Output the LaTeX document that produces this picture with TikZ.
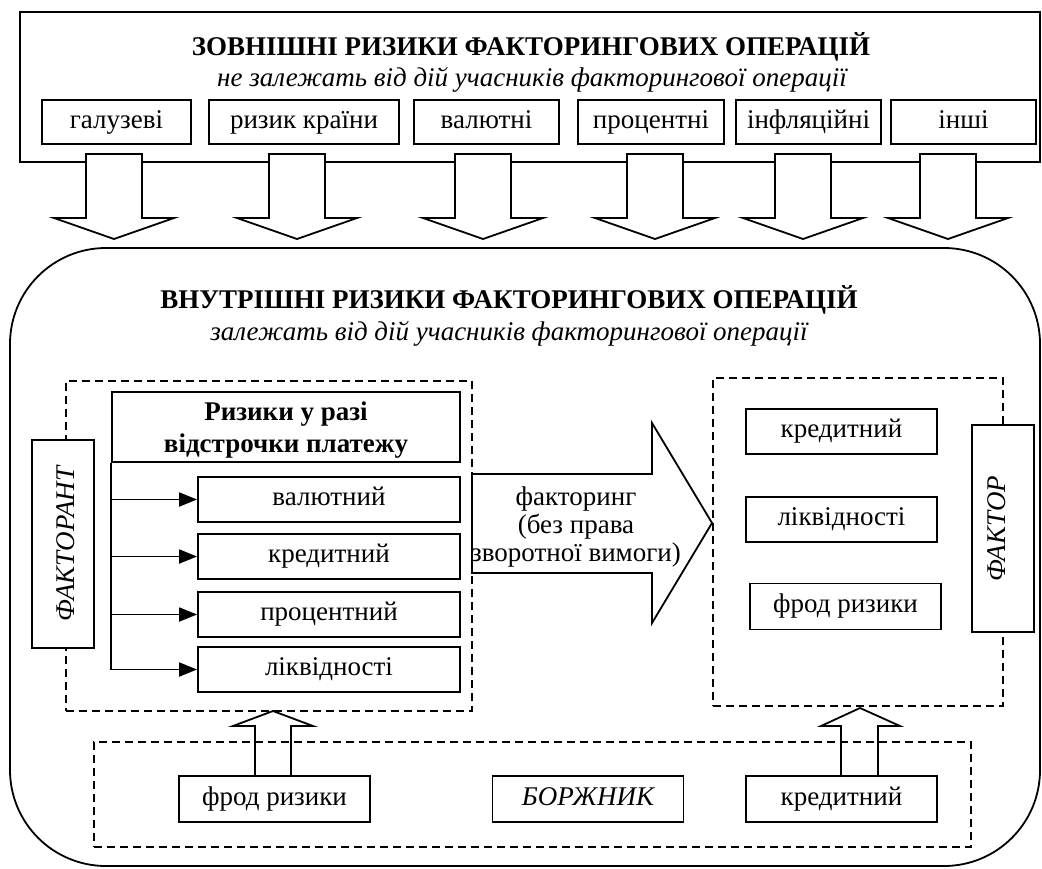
\documentclass[tikz,border=0pt]{standalone}
\usepackage{fontspec}
\setmainfont{Liberation Serif}
\usetikzlibrary{arrows.meta}

\newcommand\diagfont{\fontsize{13.5}{15.5}\selectfont}

\tikzset{
  riskbox/.style={draw, line width=0.9pt, fill=white, inner sep=0pt, align=center,
    text height=9pt, text depth=3pt, font=\diagfont},
  groupbox/.style={draw, dash pattern=on 4pt off 2.5pt, line width=0.9pt, inner sep=0pt},
  blockarrow/.style={draw, line width=0.9pt, fill=white, line join=miter},
  branch/.style={line width=0.9pt, -{Triangle[length=9pt,width=7pt]}},
}

\begin{document}
\begin{tikzpicture}[x=0.5pt, y=-0.5pt, line width=0.9pt]
  \useasboundingbox (0,0) rectangle (1042,868);

  % external risks
  \draw (20,12) rectangle (1040,162);
  \node[anchor=base, inner sep=0pt, font=\diagfont\bfseries] (exttitle) at (531,55) {ЗОВНІШНІ РИЗИКИ ФАКТОРИНГОВИХ ОПЕРАЦІЙ};
  \node[anchor=base, inner sep=0pt, font=\diagfont\itshape] (extsub) at (532,86) {не залежать від дій учасників факторингової операції};
  \foreach \cx/\w/\txt [count=\i] in {116.5/74.5pt/галузеві, 304/95pt/ризик країни, 486.5/72.5pt/валютні,
      651/73pt/процентні, 808.5/72.5pt/інфляційні, 963.5/72.5pt/інші}
    \node[riskbox, minimum width=\w, minimum height=22pt] (ext\i) at (\cx,122) {\txt};

  % internal risks
  \draw[rounded corners=48pt] (10,248) rectangle (1040,866);
  \foreach \cx in {114,297,483,655,803,948}
    \draw[blockarrow] ({\cx-28},154) -- ({\cx+28},154) -- ({\cx+28},218) -- ({\cx+60},218)
      -- (\cx,239) -- ({\cx-60},218) -- ({\cx-28},218) -- cycle;
  \node[anchor=base, inner sep=0pt, font=\diagfont\bfseries] (inttitle) at (509,308) {ВНУТРІШНІ РИЗИКИ ФАКТОРИНГОВИХ ОПЕРАЦІЙ};
  \node[anchor=base, inner sep=0pt, font=\diagfont\itshape] (intsub) at (509,340) {залежать від дій учасників факторингової операції};

  % factorant
  \node[groupbox, minimum width=203pt, minimum height=165pt] (fgroup) at (269,546) {};
  \node[riskbox, rotate=90, minimum width=104pt, minimum height=31pt, text height=13pt, text depth=2pt,
    font=\diagfont\itshape] (factorant) at (63,544) {ФАКТОРАНТ};
  \node[riskbox, minimum width=174pt, minimum height=35pt, text height=27pt, text depth=2pt,
    font=\fontsize{13.5}{16}\selectfont\bfseries] (delay) at (286,427) {Ризики у разі\\відстрочки платежу};
  \foreach \cy/\txt [count=\i] in {499.5/валютний, 556.5/кредитний, 614.5/процентний, 669.5/ліквідності}
    \node[riskbox, minimum width=131pt, minimum height=22.5pt] (late\i) at (329,\cy) {\txt};
  \draw (delay.south west) -- (delay.south west |- late4.west);
  \foreach \i in {1,...,4}
    \draw[branch] (delay.south west |- late\i.west) -- (late\i.west);

  % factor
  \node[groupbox, minimum width=145pt, minimum height=164pt] (rgroup) at (858,542) {};
  \node[riskbox, rotate=90, minimum width=103.5pt, minimum height=31pt, text height=6.5pt, text depth=4pt,
    font=\diagfont\itshape] (factor) at (1003,528.5) {ФАКТОР};
  \node[riskbox, minimum width=95.5pt, minimum height=22.5pt] (fcredit) at (841.5,431.5) {кредитний};
  \node[riskbox, minimum width=95.5pt, minimum height=22.5pt] (fliquid) at (841.5,519.5) {ліквідності};
  \node[riskbox, minimum width=95.5pt, minimum height=23pt] (ffraud) at (845.5,606.5) {фрод ризики};

  % factoring arrow
  \draw[blockarrow] (472,474) -- (652,474) -- (652,423) -- (712,523) -- (652,623) -- (652,573) -- (472,573) -- cycle;
  \node[align=center, inner sep=0pt, font=\fontsize{13.5}{14}\selectfont] (factoring) at (576,527) {факторинг\\(без права\\зворотної вимоги)};

  % debtor
  \node[riskbox, minimum width=95.5pt, minimum height=23pt] (dfraud) at (274.5,799) {фрод ризики};
  \node[riskbox, minimum width=95.5pt, minimum height=23pt, font=\diagfont\itshape] (debtor) at (588,799) {БОРЖНИК};
  \node[riskbox, minimum width=95.5pt, minimum height=23pt] (dcredit) at (841.5,799) {кредитний};
  \draw[line join=miter] (255,776) -- (255,726) -- (233,726) -- (273,711) -- (313,726) -- (291,726) -- (291,776);
  \draw[line join=miter] (841,776) -- (841,726) -- (821,726) -- (860,708) -- (900,726) -- (878,726) -- (878,776);
  \node[groupbox, minimum width=438.5pt, minimum height=52.5pt] (dgroup) at (532.5,794.5) {};
\end{tikzpicture}
\end{document}
